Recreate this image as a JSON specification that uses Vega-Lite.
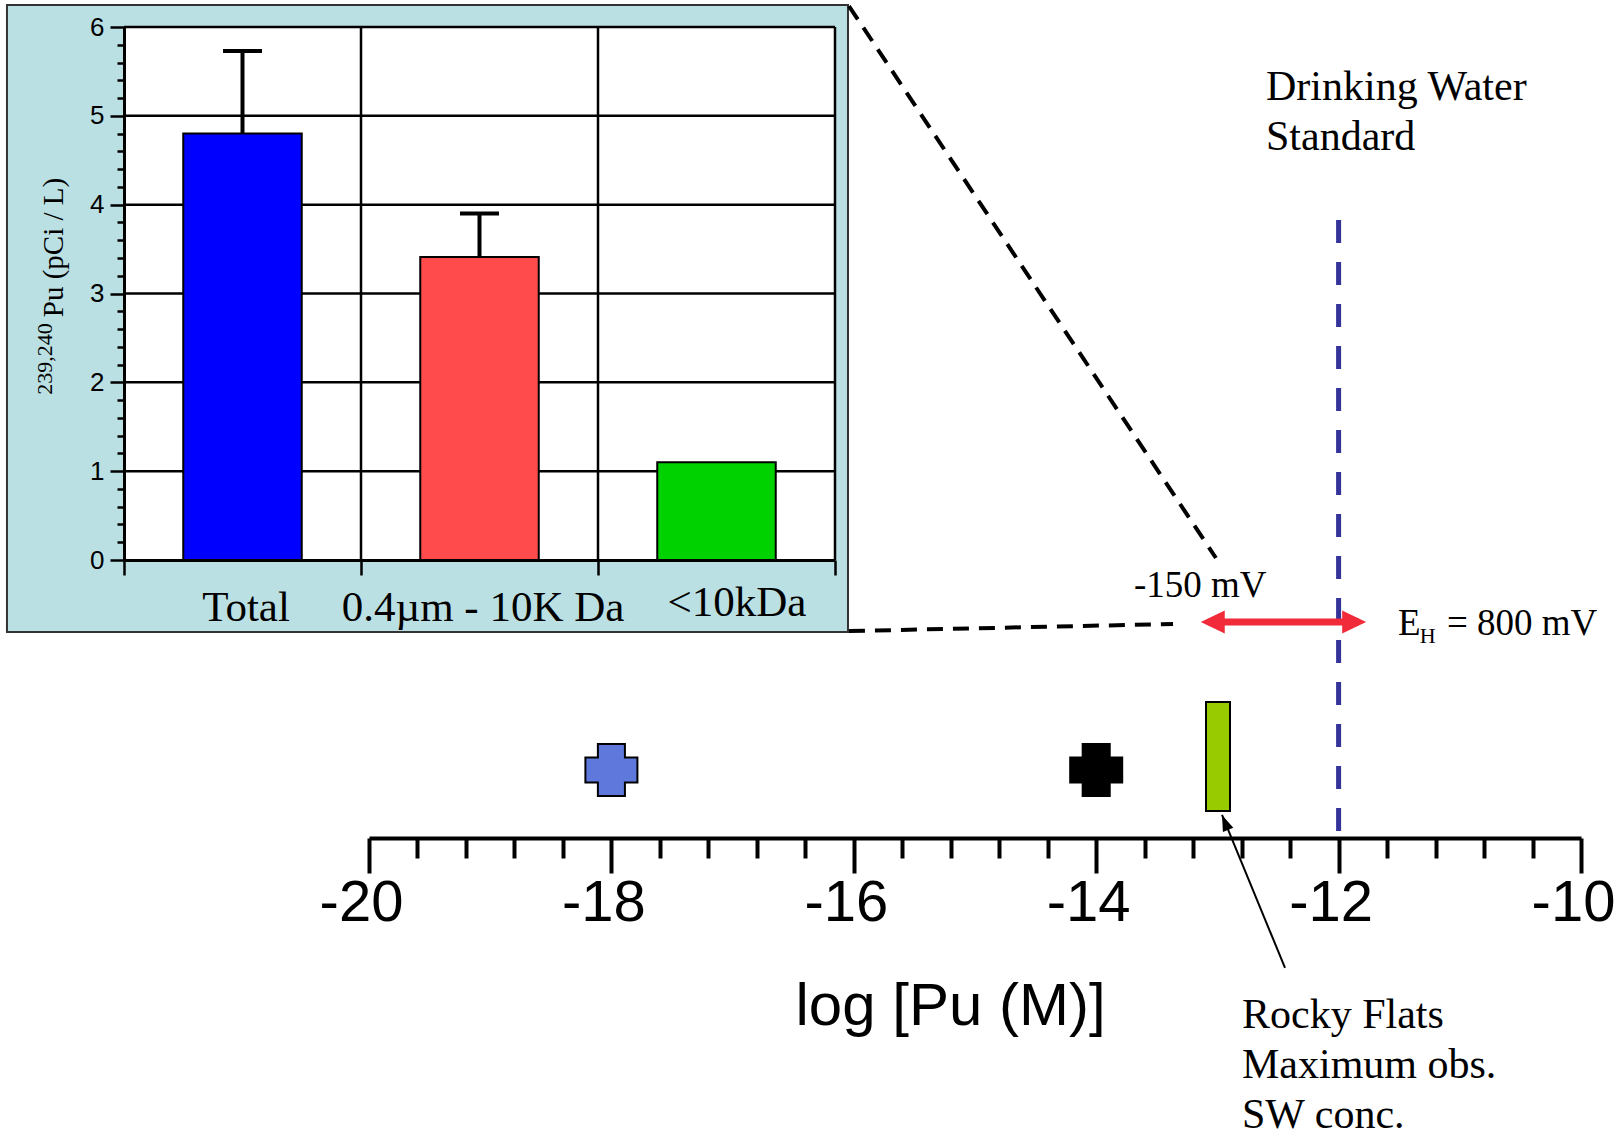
{
  "$schema": "https://vega.github.io/schema/vega-lite/v6.json",
  "width": 711,
  "height": 533,
  "padding": {"left": 124, "top": 27, "right": 786, "bottom": 576},
  "autosize": {"type": "none"},
  "background": "white",
  "config": {"view": {"stroke": null}},
  "datasets": {
    "inset": [
      {"fraction": "Total", "pu": 4.8, "upper": 5.73},
      {"fraction": "0.4µm - 10K Da", "pu": 3.41, "upper": 3.9},
      {"fraction": "<10kDa", "pu": 1.1, "upper": null}
    ],
    "insetLevels": [{"level": 1}, {"level": 2}, {"level": 3}, {"level": 4}, {"level": 5}, {"level": 6}],
    "markers": [
      {"marker": "blue cross", "logPu": -18},
      {"marker": "black cross", "logPu": -14}
    ],
    "rockyFlats": [{"site": "Rocky Flats maximum obs. SW conc.", "logPuLow": -13.094, "logPuHigh": -12.896}],
    "standard": [{"name": "Drinking Water Standard", "logPu": -12}],
    "ehRange": [{"low": -13.078, "high": -11.832}],
    "ehEnds": [{"end": "-150 mV", "logPu": -13.078}, {"end": "800 mV", "logPu": -11.832}]
  },
  "resolve": {"scale": {"x": "independent", "y": "independent"}},
  "layer": [
    {
      "layer": [
        {
          "data": {"values": [{}]},
          "mark": {"type": "rect", "fill": "#BBE0E3", "stroke": "#333333", "strokeWidth": 2},
          "encoding": {
            "x": {"datum": -22.987, "type": "quantitative"},
            "x2": {"datum": -16.048},
            "y": {"datum": 99.56, "type": "quantitative"},
            "y2": {"datum": 44.37}
          }
        },
        {
          "data": {"values": [{}]},
          "mark": {"type": "rule", "stroke": "black", "strokeWidth": 4, "strokeDash": [16, 10]},
          "encoding": {
            "x": {"datum": -16.04, "type": "quantitative"},
            "x2": {"datum": -13.012},
            "y": {"datum": 99.47, "type": "quantitative"},
            "y2": {"datum": 50.88}
          }
        },
        {
          "data": {"values": [{}]},
          "mark": {"type": "rule", "stroke": "black", "strokeWidth": 4, "strokeDash": [16, 10]},
          "encoding": {
            "x": {"datum": -16.04, "type": "quantitative"},
            "x2": {"datum": -13.366},
            "y": {"datum": 44.45, "type": "quantitative"},
            "y2": {"datum": 45.07}
          }
        },
        {
          "data": {"name": "standard"},
          "mark": {"type": "rule", "stroke": "#333399", "strokeWidth": 5, "strokeDash": [23, 19]},
          "encoding": {
            "x": {"field": "logPu", "type": "quantitative"},
            "y": {"datum": 80.63, "type": "quantitative"},
            "y2": {"datum": 26.76}
          }
        },
        {
          "data": {"name": "ehRange"},
          "mark": {"type": "rule", "stroke": "#F22B3A", "strokeWidth": 7},
          "encoding": {
            "x": {"field": "low", "type": "quantitative"},
            "x2": {"field": "high"},
            "y": {"datum": 45.25, "type": "quantitative"}
          }
        },
        {
          "data": {"name": "ehEnds"},
          "mark": {"type": "point", "filled": true, "fill": "#F22B3A", "strokeWidth": 0, "size": 2304, "opacity": 1},
          "encoding": {
            "x": {"field": "logPu", "type": "quantitative"},
            "y": {"datum": 45.25, "type": "quantitative"},
            "shape": {"field": "end", "type": "nominal", "scale": {"domain": ["-150 mV", "800 mV"], "range": ["M-0.3,0L0.7,-0.48L0.7,0.48Z", "M0.3,0L-0.7,-0.48L-0.7,0.48Z"]}, "legend": null}
          }
        },
        {
          "data": {"name": "rockyFlats"},
          "mark": {"type": "rect", "fill": "#99CC00", "stroke": "black", "strokeWidth": 2},
          "encoding": {
            "x": {"field": "logPuLow", "type": "quantitative"},
            "x2": {"field": "logPuHigh"},
            "y": {"datum": 38.2, "type": "quantitative"},
            "y2": {"datum": 28.61}
          }
        },
        {
          "data": {"name": "markers"},
          "mark": {"type": "point", "filled": true, "stroke": "black", "strokeWidth": 2, "size": 2704, "opacity": 1,
                   "shape": "M-0.52,-1L0.52,-1L0.52,-0.48L1,-0.48L1,0.48L0.52,0.48L0.52,1L-0.52,1L-0.52,0.48L-1,0.48L-1,-0.48L-0.52,-0.48Z"},
          "encoding": {
            "x": {"field": "logPu", "type": "quantitative"},
            "y": {"datum": 32.22, "type": "quantitative"},
            "fill": {"field": "marker", "type": "nominal", "scale": {"domain": ["blue cross", "black cross"], "range": ["#5F78DC", "#000000"]}, "legend": null}
          }
        },
        {
          "data": {"values": [{}]},
          "mark": {"type": "rule", "stroke": "black", "strokeWidth": 2},
          "encoding": {
            "x": {"datum": -12.442, "type": "quantitative"},
            "x2": {"datum": -12.962},
            "y": {"datum": 14.79, "type": "quantitative"},
            "y2": {"datum": 28.26}
          }
        },
        {
          "data": {"values": [{}]},
          "mark": {"type": "point", "filled": true, "fill": "black", "strokeWidth": 0, "size": 1024, "opacity": 1, "angle": 337.6, "shape": "M0,0L0.35,1L-0.35,1Z"},
          "encoding": {
            "x": {"datum": -12.962, "type": "quantitative"},
            "y": {"datum": 28.26, "type": "quantitative"}
          }
        },
        {
          "data": {"values": [{}]},
          "mark": {"type": "text", "text": ["Drinking Water", "Standard"], "lineHeight": 50, "font": "Liberation Serif", "fontSize": 42, "align": "left", "baseline": "alphabetic", "fill": "black"},
          "encoding": {
            "x": {"datum": -12.599, "type": "quantitative"},
            "y": {"datum": 91.2, "type": "quantitative"}
          }
        },
        {
          "data": {"values": [{}]},
          "mark": {"type": "text", "text": "-150 mV", "font": "Liberation Serif", "fontSize": 37, "align": "left", "baseline": "alphabetic", "fill": "black"},
          "encoding": {
            "x": {"datum": -13.688, "type": "quantitative"},
            "y": {"datum": 47.45, "type": "quantitative"}
          }
        },
        {
          "data": {"values": [{}]},
          "mark": {"type": "text", "text": "E", "font": "Liberation Serif", "fontSize": 37, "align": "left", "baseline": "alphabetic", "fill": "black"},
          "encoding": {
            "x": {"datum": -11.51, "type": "quantitative"},
            "y": {"datum": 44.1, "type": "quantitative"}
          }
        },
        {
          "data": {"values": [{}]},
          "mark": {"type": "text", "text": "H", "font": "Liberation Serif", "fontSize": 22, "align": "left", "baseline": "alphabetic", "fill": "black"},
          "encoding": {
            "x": {"datum": -11.33, "type": "quantitative"},
            "y": {"datum": 43.4, "type": "quantitative"}
          }
        },
        {
          "data": {"values": [{}]},
          "mark": {"type": "text", "text": "= 800 mV", "font": "Liberation Serif", "fontSize": 37, "align": "left", "baseline": "alphabetic", "fill": "black"},
          "encoding": {
            "x": {"datum": -11.106, "type": "quantitative"},
            "y": {"datum": 44.1, "type": "quantitative"}
          }
        },
        {
          "data": {"values": [{}]},
          "mark": {"type": "text", "text": ["Rocky Flats", "Maximum obs.", "SW conc."], "lineHeight": 50, "font": "Liberation Serif", "fontSize": 42, "align": "left", "baseline": "alphabetic", "fill": "black"},
          "encoding": {
            "x": {"datum": -12.797, "type": "quantitative"},
            "y": {"datum": 9.51, "type": "quantitative"}
          }
        },
        {
          "data": {"values": [{}]},
          "mark": {"type": "text", "text": "239,240", "font": "Liberation Serif", "fontSize": 22, "align": "center", "baseline": "alphabetic", "angle": 270, "fill": "black"},
          "encoding": {
            "x": {"datum": -22.616, "type": "quantitative"},
            "y": {"datum": 68.4, "type": "quantitative"}
          }
        }
      ],
      "encoding": {
        "x": {
          "type": "quantitative",
          "scale": {"domain": [-20, -10], "range": [245, 1457], "nice": false, "zero": false},
          "axis": {
            "orient": "bottom", "offset": 278,
            "values": [-20, -19.6, -19.2, -18.8, -18.4, -18, -17.6, -17.2, -16.8, -16.4, -16, -15.6, -15.2, -14.8, -14.4, -14, -13.6, -13.2, -12.8, -12.4, -12, -11.6, -11.2, -10.8, -10.4, -10],
            "domainColor": "black", "domainWidth": 4,
            "tickColor": "black", "tickWidth": 4,
            "tickSize": {"condition": {"test": "abs(datum.value - 2*round(datum.value/2)) < 0.01", "value": 35}, "value": 20},
            "labelExpr": "abs(datum.value - 2*round(datum.value/2)) < 0.01 ? '' + datum.value : ''",
            "labelFont": "Liberation Sans", "labelFontSize": 58, "labelColor": "black",
            "labelBaseline": "alphabetic", "labelPadding": 47, "labelOffset": -8,
            "labelFlush": false, "labelOverlap": false, "labelBound": false,
            "grid": false,
            "title": "log [Pu (M)]", "titleFont": "Liberation Sans", "titleFontSize": 60, "titleFontWeight": "normal", "titleColor": "black",
            "titleX": 826, "titleY": 186, "titleAlign": "center", "titleBaseline": "alphabetic",
            "zindex": 0
          }
        },
        "y": {
          "type": "quantitative",
          "scale": {"domain": [0, 100], "range": [1109, -27], "nice": false, "zero": false},
          "axis": null
        }
      }
    },
    {
      "data": {"name": "inset"},
      "encoding": {
        "x": {
          "field": "fraction", "type": "nominal", "sort": null,
          "scale": {"domain": ["Total", "0.4µm - 10K Da", "<10kDa"], "range": [0, 711], "paddingInner": 0, "paddingOuter": 0},
          "axis": {
            "orient": "bottom", "offset": 0, "tickBand": "extent",
            "domainColor": "black", "domainWidth": 3,
            "tickColor": "black", "tickWidth": 2.5, "tickSize": 15,
            "labelFont": "Liberation Serif", "labelFontSize": 43, "labelColor": "black", "labelAngle": 0, "labelLimit": 0,
            "labelBaseline": "alphabetic",
            "labelPadding": {"condition": {"test": "datum.value == '<10kDa'", "value": 40}, "value": 45},
            "labelOffset": {"condition": {"test": "datum.value == '<10kDa'", "value": 20}, "value": 3},
            "grid": false, "title": null, "zindex": 1
          }
        },
        "y": {
          "type": "quantitative",
          "scale": {"domain": [0, 6], "range": [533, 0], "nice": false, "zero": true},
          "axis": {
            "orient": "left", "offset": 0,
            "values": [0, 0.2, 0.4, 0.6, 0.8, 1, 1.2, 1.4, 1.6, 1.8, 2, 2.2, 2.4, 2.6, 2.8, 3, 3.2, 3.4, 3.6, 3.8, 4, 4.2, 4.4, 4.6, 4.8, 5, 5.2, 5.4, 5.6, 5.8, 6],
            "domainColor": "black", "domainWidth": 3,
            "tickColor": "black", "tickWidth": 2.5,
            "tickSize": {"condition": {"test": "datum.value == round(datum.value)", "value": 14}, "value": 7},
            "labelExpr": "datum.value == round(datum.value) ? '' + datum.value : ''",
            "labelFont": "Liberation Sans", "labelFontSize": 26, "labelColor": "black", "labelPadding": 6, "labelOverlap": false,
            "grid": false,
            "title": "Pu (pCi / L)", "titleFont": "Liberation Serif", "titleFontSize": 29, "titleFontWeight": "normal", "titleColor": "black",
            "titleAngle": 270, "titleX": -62, "titleY": 220, "titleAlign": "center", "titleBaseline": "alphabetic",
            "zindex": 1
          }
        }
      },
      "layer": [
        {
          "mark": {"type": "bar", "fill": "white", "strokeWidth": 0, "opacity": 1},
          "encoding": {
            "y": {"datum": 6, "type": "quantitative"},
            "y2": {"datum": 0}
          }
        },
        {
          "data": {"name": "insetLevels"},
          "mark": {"type": "tick", "orient": "horizontal", "size": 711, "thickness": 2.5, "color": "black", "opacity": 1},
          "encoding": {
            "x": {"datum": "0.4µm - 10K Da", "type": "nominal"},
            "y": {"field": "level", "type": "quantitative"}
          }
        },
        {
          "mark": {"type": "rule", "stroke": "black", "strokeWidth": 2.5},
          "encoding": {
            "x": {"field": "fraction", "type": "nominal", "sort": null, "bandPosition": 1},
            "y": {"datum": 0, "type": "quantitative"},
            "y2": {"datum": 6}
          }
        },
        {
          "mark": {"type": "bar", "width": {"band": 0.5}, "stroke": "black", "strokeWidth": 2, "opacity": 1},
          "encoding": {
            "y": {"field": "pu", "type": "quantitative"},
            "color": {"field": "fraction", "type": "nominal", "scale": {"domain": ["Total", "0.4µm - 10K Da", "<10kDa"], "range": ["#0000FF", "#FF4B4B", "#00D200"]}, "legend": null}
          }
        },
        {
          "transform": [{"filter": "isValid(datum.upper)"}],
          "mark": {"type": "rule", "stroke": "black", "strokeWidth": 4},
          "encoding": {
            "y": {"field": "pu", "type": "quantitative"},
            "y2": {"field": "upper"}
          }
        },
        {
          "transform": [{"filter": "isValid(datum.upper)"}],
          "mark": {"type": "tick", "orient": "horizontal", "size": 39, "thickness": 4, "color": "black", "opacity": 1},
          "encoding": {
            "y": {"field": "upper", "type": "quantitative"}
          }
        }
      ]
    }
  ]
}
